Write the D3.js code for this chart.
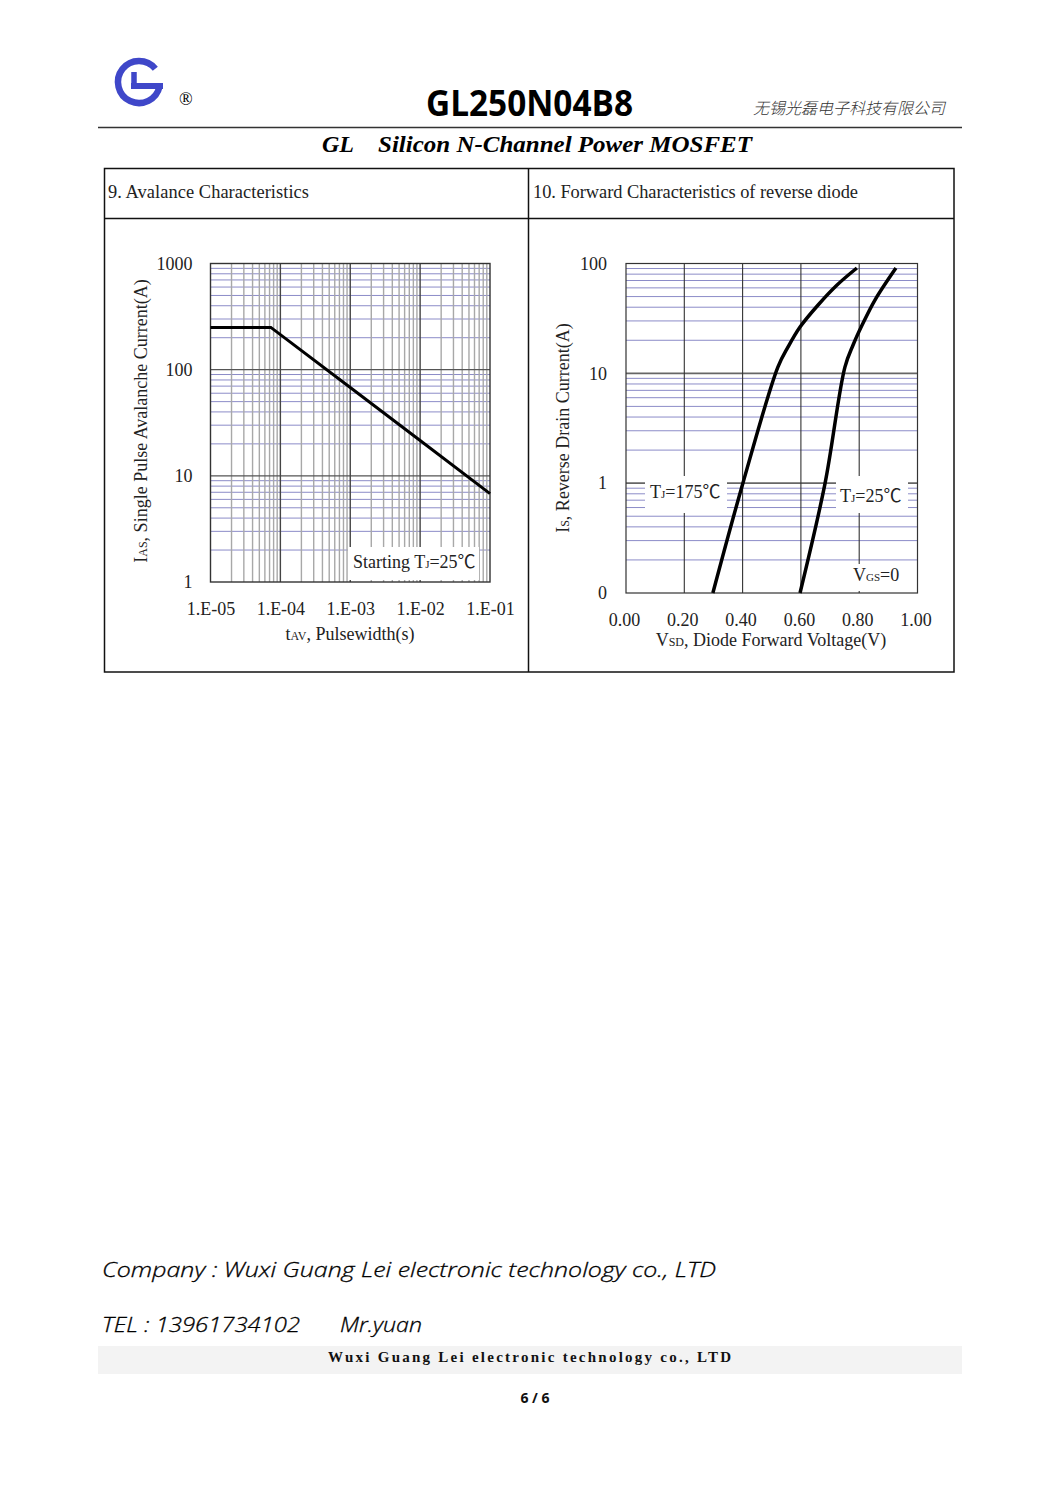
<!DOCTYPE html>
<html><head><meta charset="utf-8">
<script src="https://cdn.jsdelivr.net/npm/d3@7"></script>
<style>body{margin:0;background:#fff}svg{display:block}</style>
</head><body>
<svg id="page" width="1061" height="1500"></svg>
<script>
// ---------- DATA ----------
// Chart 9: avalanche characteristics
const avalPulse   = [1e-5, 7.3e-5, 1e-4, 1e-3, 1e-2, 1e-1];
const avalCurrent = [250, 250, 214, 68, 21.5, 6.8];
const avalXTicks = [1e-5, 1e-4, 1e-3, 1e-2, 1e-1];
const avalXTickLabels = ["1.E-05", "1.E-04", "1.E-03", "1.E-02", "1.E-01"];
const avalYTicks = [1, 10, 100, 1000];
const avalYTickLabels = ["1", "10", "100", "1000"];

// Chart 10: forward characteristics of reverse diode
const vsd175 = [0.298, 0.401, 0.521, 0.556, 0.597, 0.659, 0.724, 0.792];
const is175  = [0.1, 1.0, 11.4, 17.4, 26.4, 41.9, 63.7, 91];
const vsd25  = [0.597, 0.683, 0.751, 0.779, 0.810, 0.854, 0.926];
const is25   = [0.1, 1.0, 11.4, 18.1, 27.5, 46.5, 91];
const diodeXTicks = [0, 0.2, 0.4, 0.6, 0.8, 1.0];
const diodeXTickLabels = ["0.00", "0.20", "0.40", "0.60", "0.80", "1.00"];
const diodeYTicks = [0.1, 1, 10, 100];
const diodeYTickLabels = ["0", "1", "10", "100"];

// ---------- DRAW ----------
const svg = d3.select("#page");
const SERIF = "'Liberation Serif','Times New Roman','Noto Sans CJK SC',serif";
const SANS = "'Noto Sans','Open Sans',sans-serif";
const BLUE_GRID = "#8c8cc8";

// Header logo
const logoBlue = "#3f47c9";
const lg = svg.append("g");
const cx = 139, cy = 82, r = 21;
const a0 = -39 * Math.PI / 180, a1 = 12 * Math.PI / 180;
lg.append("path")
  .attr("d", `M${cx + r*Math.cos(a0)},${cy + r*Math.sin(a0)} A${r},${r} 0 1 0 ${cx + r*Math.cos(a1)},${cy + r*Math.sin(a1)}`)
  .attr("fill", "none").attr("stroke", logoBlue).attr("stroke-width", 6.5);
lg.append("line").attr("x1", 163).attr("x2", 131).attr("y1", 86).attr("y2", 86)
  .attr("stroke", logoBlue).attr("stroke-width", 6);
lg.append("line").attr("x1", 134).attr("x2", 134).attr("y1", 72).attr("y2", 89)
  .attr("stroke", logoBlue).attr("stroke-width", 5.5);
svg.append("text").attr("x", 179).attr("y", 105).attr("font-family", SERIF)
  .attr("font-size", 18).text("®");

svg.append("text").attr("x", 426).attr("y", 116).attr("font-family", "'Open Sans','Noto Sans',sans-serif")
  .attr("font-weight", "bold").attr("font-size", 36).attr("textLength", 207)
  .attr("lengthAdjust", "spacingAndGlyphs").text("GL250N04B8");
svg.append("text").attr("x", 753).attr("y", 114).attr("font-family", "'Noto Sans CJK SC',sans-serif")
  .attr("font-style", "italic").attr("font-weight", 300).attr("font-size", 16).attr("fill", "#333")
  .attr("textLength", 192).attr("lengthAdjust", "spacingAndGlyphs").text("无锡光磊电子科技有限公司");
svg.append("line").attr("x1", 98).attr("x2", 962).attr("y1", 127.5).attr("y2", 127.5)
  .attr("stroke", "#333").attr("stroke-width", 1.5);
svg.append("text").attr("x", 322).attr("y", 152).attr("font-family", SERIF)
  .attr("font-weight", "bold").attr("font-style", "italic").attr("font-size", 24).text("GL");
svg.append("text").attr("x", 378).attr("y", 152).attr("font-family", SERIF)
  .attr("font-weight", "bold").attr("font-style", "italic").attr("font-size", 24)
  .attr("textLength", 374).attr("lengthAdjust", "spacingAndGlyphs").text("Silicon N-Channel Power MOSFET");

// Panel frame
const frame = svg.append("g").attr("fill", "none").attr("stroke", "#111").attr("stroke-width", 1.5);
frame.append("rect").attr("x", 104.5).attr("y", 168.5).attr("width", 849.5).attr("height", 503.5);
frame.append("line").attr("x1", 528.5).attr("x2", 528.5).attr("y1", 168.5).attr("y2", 672);
frame.append("line").attr("x1", 104.5).attr("x2", 954).attr("y1", 218.5).attr("y2", 218.5);
svg.append("text").attr("x", 108).attr("y", 198).attr("font-family", SERIF).attr("font-size", 18.4)
  .attr("fill", "#222").attr("textLength", 201).attr("lengthAdjust", "spacing").text("9. Avalance Characteristics");
svg.append("text").attr("x", 533).attr("y", 198).attr("font-family", SERIF).attr("font-size", 18.4)
  .attr("fill", "#222").attr("textLength", 325).attr("lengthAdjust", "spacing").text("10. Forward Characteristics of reverse diode");

function minorVals(decades) {
  const out = [];
  decades.forEach(d => { for (let k = 2; k <= 9; k++) out.push(k * d); });
  return out;
}

// ---------- Chart 9 ----------
const xA = d3.scaleLog().domain([1e-5, 1e-1]).range([210.5, 490]);
const yA = d3.scaleLog().domain([1, 1000]).range([582, 263.5]);
const gA = svg.append("g");
gA.selectAll(".hminA").data(minorVals([1, 10, 100])).join("line")
  .attr("x1", xA.range()[0]).attr("x2", xA.range()[1])
  .attr("y1", d => yA(d)).attr("y2", d => yA(d))
  .attr("stroke", BLUE_GRID).attr("stroke-width", 1);
gA.selectAll(".vminA").data(minorVals([1e-5, 1e-4, 1e-3, 1e-2])).join("line")
  .attr("x1", d => xA(d)).attr("x2", d => xA(d))
  .attr("y1", yA.range()[0]).attr("y2", yA.range()[1])
  .attr("stroke", "#a8a8a8").attr("stroke-width", 1.4);
gA.selectAll(".hmajA").data([10, 100]).join("line")
  .attr("x1", xA.range()[0]).attr("x2", xA.range()[1])
  .attr("y1", d => yA(d)).attr("y2", d => yA(d))
  .attr("stroke", "#555").attr("stroke-width", 1.4);
gA.selectAll(".vmajA").data([1e-4, 1e-3, 1e-2]).join("line")
  .attr("x1", d => xA(d)).attr("x2", d => xA(d))
  .attr("y1", yA.range()[0]).attr("y2", yA.range()[1])
  .attr("stroke", "#444").attr("stroke-width", 1.4);
gA.append("rect").attr("x", xA.range()[0]).attr("y", yA.range()[1])
  .attr("width", xA.range()[1] - xA.range()[0]).attr("height", yA.range()[0] - yA.range()[1])
  .attr("fill", "none").attr("stroke", "#333").attr("stroke-width", 1.4);
// label box
gA.append("rect").attr("x", 348).attr("y", 547).attr("width", 131).attr("height", 33).attr("fill", "#fff");
const tA = gA.append("text").attr("x", 353).attr("y", 568).attr("font-family", SERIF)
  .attr("font-size", 18).attr("fill", "#222");
tA.append("tspan").text("Starting T");
tA.append("tspan").attr("font-size", 11).text("J");
tA.append("tspan").text("=25℃");

const avalData = avalPulse.map((t, i) => ({ t, i: avalCurrent[i] }));
gA.append("path").datum(avalData)
  .attr("d", d3.line().x(d => xA(d.t)).y(d => yA(d.i)))
  .attr("fill", "none").attr("stroke", "#000").attr("stroke-width", 3);

const axYA = gA.append("g").attr("transform", `translate(${xA.range()[0]},0)`)
  .call(d3.axisLeft(yA).tickValues(avalYTicks).tickSize(0).tickPadding(18)
    .tickFormat((d, i) => avalYTickLabels[i]));
const axXA = gA.append("g").attr("transform", `translate(0,${yA.range()[0]})`)
  .call(d3.axisBottom(xA).tickValues(avalXTicks).tickSize(0).tickPadding(20)
    .tickFormat((d, i) => avalXTickLabels[i]));
[axYA, axXA].forEach(a => {
  a.select(".domain").remove();
  a.selectAll("text").attr("font-family", SERIF).attr("font-size", 18).attr("fill", "#222");
});
const xtA = gA.append("text").attr("x", 350).attr("y", 640).attr("text-anchor", "middle")
  .attr("font-family", SERIF).attr("font-size", 18).attr("fill", "#222");
xtA.append("tspan").text("t");
xtA.append("tspan").attr("font-size", 12).text("AV");
xtA.append("tspan").text(", Pulsewidth(s)");
const ytA = gA.append("text").attr("transform", "translate(147,421) rotate(-90)")
  .attr("text-anchor", "middle").attr("font-family", SERIF).attr("font-size", 18).attr("fill", "#222");
ytA.append("tspan").text("I");
ytA.append("tspan").attr("font-size", 12).text("AS");
ytA.append("tspan").text(", Single Pulse Avalanche Current(A)");

// ---------- Chart 10 ----------
const xB = d3.scaleLinear().domain([0, 1]).range([626, 917.5]);
const yB = d3.scaleLog().domain([0.1, 100]).range([593, 263.5]);
const gB = svg.append("g");
gB.selectAll(".hminB").data(minorVals([0.1, 1, 10])).join("line")
  .attr("x1", xB.range()[0]).attr("x2", xB.range()[1])
  .attr("y1", d => yB(d)).attr("y2", d => yB(d))
  .attr("stroke", BLUE_GRID).attr("stroke-width", 1);
gB.selectAll(".hmajB").data([1, 10]).join("line")
  .attr("x1", xB.range()[0]).attr("x2", xB.range()[1])
  .attr("y1", d => yB(d)).attr("y2", d => yB(d))
  .attr("stroke", "#666").attr("stroke-width", 1.6);
gB.selectAll(".vmajB").data([0.2, 0.4, 0.6, 0.8]).join("line")
  .attr("x1", d => xB(d)).attr("x2", d => xB(d))
  .attr("y1", yB.range()[0]).attr("y2", yB.range()[1])
  .attr("stroke", "#333").attr("stroke-width", 1.1);
gB.append("rect").attr("x", xB.range()[0]).attr("y", yB.range()[1])
  .attr("width", xB.range()[1] - xB.range()[0]).attr("height", yB.range()[0] - yB.range()[1])
  .attr("fill", "none").attr("stroke", "#333").attr("stroke-width", 1.2);
// label boxes
gB.append("rect").attr("x", 645).attr("y", 476).attr("width", 82).attr("height", 37).attr("fill", "#fff");
gB.append("rect").attr("x", 836).attr("y", 476).attr("width", 72).attr("height", 37).attr("fill", "#fff");
gB.append("rect").attr("x", 849).attr("y", 564).attr("width", 56).attr("height", 27).attr("fill", "#fff");
function subLabel(g, x, y, main, sub, rest) {
  const t = g.append("text").attr("x", x).attr("y", y).attr("font-family", SERIF)
    .attr("font-size", 18).attr("fill", "#222");
  t.append("tspan").text(main);
  t.append("tspan").attr("font-size", 11).text(sub);
  t.append("tspan").text(rest);
}
subLabel(gB, 650, 498, "T", "J", "=175℃");
subLabel(gB, 840, 502, "T", "J", "=25℃");
subLabel(gB, 853, 581, "V", "GS", "=0");

const line = d3.line().x(d => xB(d.v)).y(d => yB(d.i)).curve(d3.curveCatmullRom.alpha(0.5));
[[vsd175, is175], [vsd25, is25]].forEach(([vs, is]) => {
  gB.append("path").datum(vs.map((v, k) => ({ v, i: is[k] })))
    .attr("d", line).attr("fill", "none").attr("stroke", "#000").attr("stroke-width", 3.5);
});

const axYB = gB.append("g").attr("transform", `translate(${xB.range()[0]},0)`)
  .call(d3.axisLeft(yB).tickValues(diodeYTicks).tickSize(0).tickPadding(19)
    .tickFormat((d, i) => diodeYTickLabels[i]));
const axXB = gB.append("g").attr("transform", `translate(-2,${yB.range()[0]})`)
  .call(d3.axisBottom(xB).tickValues(diodeXTicks).tickSize(0).tickPadding(20)
    .tickFormat((d, i) => diodeXTickLabels[i]));
[axYB, axXB].forEach(a => {
  a.select(".domain").remove();
  a.selectAll("text").attr("font-family", SERIF).attr("font-size", 18).attr("fill", "#222");
});
const xtB = gB.append("text").attr("x", 771).attr("y", 646).attr("text-anchor", "middle")
  .attr("font-family", SERIF).attr("font-size", 18).attr("fill", "#222");
xtB.append("tspan").text("V");
xtB.append("tspan").attr("font-size", 12).text("SD");
xtB.append("tspan").text(", Diode Forward Voltage(V)");
const ytB = gB.append("text").attr("transform", "translate(569,428) rotate(-90)")
  .attr("text-anchor", "middle").attr("font-family", SERIF).attr("font-size", 18).attr("fill", "#222");
ytB.append("tspan").text("I");
ytB.append("tspan").attr("font-size", 12).text("S");
ytB.append("tspan").text(", Reverse Drain Current(A)");

// ---------- Footer ----------
const footFont = "'Open Sans','Noto Sans',sans-serif";
svg.append("text").attr("x", 102).attr("y", 1277).attr("font-family", footFont)
  .attr("font-style", "italic").attr("font-weight", 300).attr("font-size", 21).attr("fill", "#000")
  .attr("stroke", "#000").attr("stroke-width", 0.3)
  .attr("textLength", 614).attr("lengthAdjust", "spacingAndGlyphs")
  .text("Company : Wuxi Guang Lei electronic technology co., LTD");
svg.append("text").attr("x", 102).attr("y", 1332).attr("font-family", footFont)
  .attr("font-style", "italic").attr("font-weight", 300).attr("font-size", 21).attr("fill", "#000")
  .attr("stroke", "#000").attr("stroke-width", 0.3)
  .attr("textLength", 198).attr("lengthAdjust", "spacingAndGlyphs")
  .text("TEL : 13961734102");
svg.append("text").attr("x", 340).attr("y", 1332).attr("font-family", footFont)
  .attr("font-style", "italic").attr("font-weight", 300).attr("font-size", 21).attr("fill", "#000")
  .attr("stroke", "#000").attr("stroke-width", 0.3)
  .attr("textLength", 82).attr("lengthAdjust", "spacingAndGlyphs")
  .text("Mr.yuan");
svg.append("rect").attr("x", 98).attr("y", 1346).attr("width", 864).attr("height", 28).attr("fill", "#f3f3f3");
svg.append("text").attr("x", 328).attr("y", 1362).attr("font-family", SERIF)
  .attr("font-weight", "bold").attr("font-size", 15).attr("fill", "#111")
  .attr("textLength", 403).attr("lengthAdjust", "spacing")
  .text("Wuxi Guang Lei electronic technology co., LTD");
svg.append("text").attr("x", 535).attr("y", 1403).attr("text-anchor", "middle").attr("font-family", SANS)
  .attr("font-weight", "bold").attr("font-size", 14).attr("fill", "#111").text("6 / 6");
</script>
</body></html>
